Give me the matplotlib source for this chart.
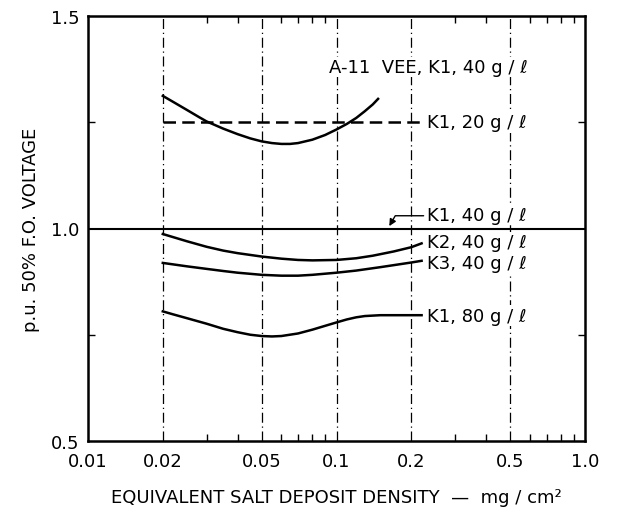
import numpy as np
import matplotlib.pyplot as plt

# values
k1_20_x = [0.02, 0.022, 0.025, 0.028, 0.03, 0.035, 0.04, 0.045, 0.05, 0.055, 0.06,
           0.065, 0.07, 0.08, 0.09, 0.1, 0.11, 0.12, 0.13, 0.14, 0.147]
k1_20_y = [1.312, 1.298, 1.279, 1.262, 1.252, 1.235, 1.222, 1.212, 1.205, 1.201, 1.199,
           1.199, 1.201, 1.209, 1.22, 1.233, 1.246, 1.26, 1.276, 1.292, 1.305]

k1_20_flat_x = [0.02, 0.22]
k1_20_flat_y = [1.25, 1.25]

k1_40_x = [0.01, 1.0]
k1_40_y = [1.0, 1.0]

k2_40_x = [0.02, 0.025, 0.03, 0.035, 0.04, 0.05, 0.06, 0.07, 0.08, 0.1, 0.12,
           0.14, 0.17, 0.2, 0.22]
k2_40_y = [0.987, 0.97, 0.957, 0.948, 0.942, 0.934, 0.929, 0.926, 0.925, 0.926, 0.93,
           0.936, 0.946, 0.956, 0.965]

k3_40_x = [0.02, 0.025, 0.03, 0.035, 0.04, 0.05, 0.06, 0.07, 0.08, 0.1, 0.12,
           0.15, 0.2, 0.22]
k3_40_y = [0.919, 0.911, 0.905, 0.9, 0.896, 0.891, 0.889, 0.889, 0.891, 0.896, 0.901,
           0.909, 0.92, 0.924]

k1_80_x = [0.02, 0.022, 0.025, 0.03, 0.035, 0.04, 0.045, 0.05, 0.055, 0.06, 0.07,
           0.08, 0.09, 0.1, 0.11, 0.12, 0.13, 0.15, 0.18, 0.22]
k1_80_y = [0.805, 0.798, 0.789, 0.776, 0.764, 0.756, 0.75, 0.747, 0.746, 0.747, 0.753,
           0.762, 0.771, 0.779, 0.786, 0.791, 0.794, 0.796, 0.796, 0.796]

grid_x = [0.02, 0.05, 0.1, 0.2, 0.5]
xtick_vals = [0.01, 0.02, 0.05, 0.1, 0.2, 0.5, 1.0]
xtick_labels = ['0.01', '0.02', '0.05', '0.1', '0.2', '0.5', '1.0']
ytick_vals = [0.5, 1.0, 1.5]
ytick_labels = ['0.5', '1.0', '1.5']

plt.rcParams['font.family'] = 'DejaVu Sans'
plt.rcParams['font.size'] = 12

fig = plt.figure(figsize=(6.18, 5.10), dpi=100)
ax = fig.add_axes([88/618, 1-442/510, 497/618, 425/510])
ax.set_xscale('log')
ax.set_xlim(0.01, 1.0)
ax.set_ylim(0.5, 1.5)

for gx in grid_x:
    ax.axvline(gx, color='black', lw=0.9, ls=(0, (8, 3, 1, 3)), zorder=1)

lw = 1.8
ax.plot(k1_20_x, k1_20_y, color='black', lw=lw, zorder=3)
ax.plot(k1_20_flat_x, k1_20_flat_y, color='black', lw=lw, ls=(0, (5, 2.5)), zorder=3)
ax.plot(k1_40_x, k1_40_y, color='black', lw=1.5, zorder=3)
ax.plot(k2_40_x, k2_40_y, color='black', lw=lw, zorder=3)
ax.plot(k3_40_x, k3_40_y, color='black', lw=lw, zorder=3)
ax.plot(k1_80_x, k1_80_y, color='black', lw=lw, zorder=3)

box = dict(facecolor='white', edgecolor='none', pad=1)
fs = 13
ax.text(0.093, 1.38, 'A-11  VEE, K1, 40 g / ℓ', fontsize=fs, va='center', ha='left', bbox=box, zorder=4)
ax.text(0.232, 1.25, 'K1, 20 g / ℓ', fontsize=fs, va='center', ha='left', bbox=box, zorder=4)
ax.text(0.232, 1.032, 'K1, 40 g / ℓ', fontsize=fs, va='center', ha='left', bbox=box, zorder=4)
ax.text(0.232, 0.968, 'K2, 40 g / ℓ', fontsize=fs, va='center', ha='left', bbox=box, zorder=4)
ax.text(0.232, 0.918, 'K3, 40 g / ℓ', fontsize=fs, va='center', ha='left', bbox=box, zorder=4)
ax.text(0.232, 0.795, 'K1, 80 g / ℓ', fontsize=fs, va='center', ha='left', bbox=box, zorder=4)

ax.annotate('', xy=(0.161, 1.0), xytext=(0.23, 1.03),
            arrowprops=dict(arrowstyle='-|>', color='black', lw=1.0,
                            connectionstyle='angle,angleA=0,angleB=60,rad=0',
                            mutation_scale=10), zorder=4)

ax.set_xticks(xtick_vals)
ax.set_xticklabels(xtick_labels)
ax.set_xticks([v * m for v in [0.01, 0.1] for m in range(2, 10)], minor=True)
ax.xaxis.set_minor_formatter(plt.NullFormatter())
ax.set_yticks(ytick_vals)
ax.set_yticklabels(ytick_labels)
ax.set_yticks([0.75, 1.25], minor=True)
ax.tick_params(which='major', axis='x', direction='in', length=0, labelsize=13, pad=8)
ax.tick_params(which='major', axis='y', direction='in', length=0, labelsize=13, pad=6)
ax.tick_params(which='minor', direction='in', length=5, width=1, top=True, right=True)

for s in ax.spines.values():
    s.set_linewidth(1.8)

ax.set_xlabel('EQUIVALENT SALT DEPOSIT DENSITY  —  mg / cm²', fontsize=13, labelpad=13)
ax.set_ylabel('p.u. 50% F.O. VOLTAGE', fontsize=13, labelpad=8)

fig.savefig('out.png', dpi=100)
